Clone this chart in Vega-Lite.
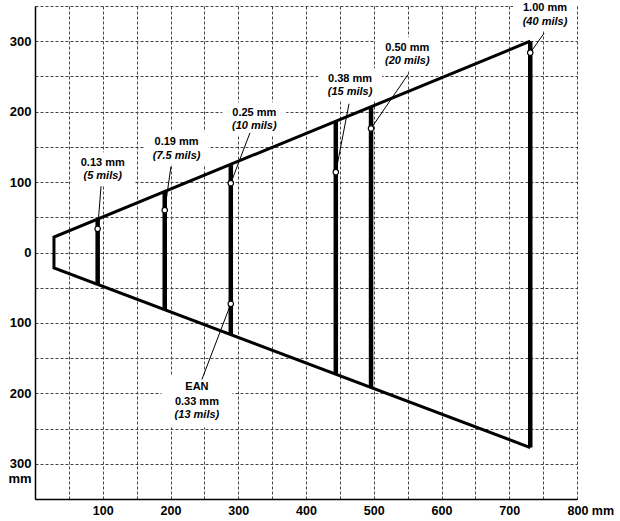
{
  "$schema": "https://vega.github.io/schema/vega-lite/v6.json",
  "width": 542,
  "height": 493,
  "autosize": {"type": "none"},
  "padding": {"left": 35, "top": 6, "right": 43, "bottom": 22},
  "background": "white",
  "config": {"view": {"stroke": null}, "font": "Liberation Sans"},
  "datasets": {
    "envelope": [
      {"x": 731, "y": 300, "o": 1},
      {"x": 28, "y": 22, "o": 2},
      {"x": 28, "y": -22, "o": 3},
      {"x": 731, "y": -277, "o": 4}
    ],
    "bars": [
      {"resolution": "0.13 mm", "x": 92.5, "y": -45.4, "y2": 47.5},
      {"resolution": "0.19 mm", "x": 191.5, "y": -80.5, "y2": 86.5},
      {"resolution": "0.25 mm", "x": 289, "y": -116.7, "y2": 125.2},
      {"resolution": "0.38 mm", "x": 444, "y": -172.9, "y2": 186.5},
      {"resolution": "0.50 mm", "x": 496, "y": -191.8, "y2": 207},
      {"resolution": "1.00 mm", "x": 731, "y": -277, "y2": 300}
    ],
    "markers": [
      {"resolution": "0.13 mm", "x": 92.5, "y": 33.7, "x2": 97.5, "y2": 94.2},
      {"resolution": "0.19 mm", "x": 191.5, "y": 60.1, "x2": 200.7, "y2": 122.2},
      {"resolution": "0.25 mm", "x": 289, "y": 98.4, "x2": 317.3, "y2": 170},
      {"resolution": "0.38 mm", "x": 444, "y": 114.1, "x2": 463.5, "y2": 211.2},
      {"resolution": "0.50 mm", "x": 496, "y": 176.1, "x2": 550.6, "y2": 252.8},
      {"resolution": "1.00 mm", "x": 731, "y": 283.7, "x2": 751.3, "y2": 311.1},
      {"resolution": "0.33 mm", "x": 289, "y": -72.9, "x2": 246.3, "y2": -180.4}
    ],
    "labels": [
      {"mm": "0.13 mm", "mils": "(5 mils)", "tag": "", "x": 100, "y": 127.4},
      {"mm": "0.19 mm", "mils": "(7.5 mils)", "tag": "", "x": 209, "y": 156.7},
      {"mm": "0.25 mm", "mils": "(10 mils)", "tag": "", "x": 323.7, "y": 198.4},
      {"mm": "0.38 mm", "mils": "(15 mils)", "tag": "", "x": 465, "y": 246.7},
      {"mm": "0.50 mm", "mils": "(20 mils)", "tag": "", "x": 549.5, "y": 290.8},
      {"mm": "1.00 mm", "mils": "(40 mils)", "tag": "", "x": 752.8, "y": 346.6},
      {"mm": "0.33 mm", "mils": "(13 mils)", "tag": "EAN", "x": 239, "y": -211.6}
    ]
  },
  "encoding": {
    "x": {
      "field": "x",
      "type": "quantitative",
      "scale": {"domain": [0, 800], "nice": false, "zero": false},
      "axis": {
        "title": null,
        "values": [0, 50, 100, 150, 200, 250, 300, 350, 400, 450, 500, 550, 600, 650, 700, 750, 800],
        "grid": true,
        "gridColor": "#444",
        "gridDash": [3, 2],
        "gridWidth": 1,
        "domainColor": "#000",
        "domainWidth": 1.5,
        "ticks": false,
        "labelExpr": "datum.value == 800 ? '800 mm' : (datum.value % 100 == 0 && datum.value > 0 ? format(datum.value, 'd') : '')",
        "labelFont": "Liberation Sans",
        "labelFontWeight": "bold",
        "labelFontSize": 12.5,
        "labelColor": "#000",
        "labelPadding": 5,
        "labelFlush": false,
        "labelOverlap": false,
        "labelAlign": {"condition": {"test": "datum.value == 800", "value": "left"}, "value": "center"},
        "labelOffset": {"condition": {"test": "datum.value == 800", "value": -10}, "value": 0}
      }
    },
    "y": {
      "field": "y",
      "type": "quantitative",
      "scale": {"domain": [-350, 350], "nice": false, "zero": false},
      "axis": {
        "title": null,
        "values": [-350, -300, -250, -200, -150, -100, -50, 0, 50, 100, 150, 200, 250, 300, 350],
        "grid": true,
        "gridColor": "#444",
        "gridDash": [3, 2],
        "gridWidth": 1,
        "domainColor": "#000",
        "domainWidth": 1.5,
        "ticks": false,
        "labelExpr": "datum.value == -300 ? ['300', 'mm'] : (datum.value % 100 == 0 && abs(datum.value) <= 300 ? format(abs(datum.value), 'd') : '')",
        "labelFont": "Liberation Sans",
        "labelFontWeight": "bold",
        "labelFontSize": 13,
        "labelColor": "#000",
        "labelPadding": 4,
        "labelFlush": false,
        "labelOverlap": false,
        "labelLineHeight": 15
      }
    }
  },
  "layer": [
    {
      "data": {"name": "labels"},
      "transform": [{"filter": "datum.tag == ''"}],
      "mark": {"type": "point", "shape": "M-1,-0.33H1V0.7H-1Z", "size": 4096, "filled": true, "fill": "white", "stroke": null, "opacity": 1}
    },
    {
      "data": {"name": "labels"},
      "transform": [{"filter": "datum.tag != ''"}],
      "mark": {"type": "point", "shape": "M-1,-0.73H1V0.73H-1Z", "size": 5041, "filled": true, "fill": "white", "stroke": null, "opacity": 1}
    },
    {
      "data": {"name": "envelope"},
      "mark": {"type": "line", "color": "#000", "strokeWidth": 3, "strokeJoin": "miter", "strokeCap": "butt"},
      "encoding": {"order": {"field": "o", "type": "quantitative"}}
    },
    {
      "data": {"name": "bars"},
      "mark": {"type": "rule", "color": "#000", "strokeWidth": 4.5, "strokeCap": "butt"},
      "encoding": {"y2": {"field": "y2"}}
    },
    {
      "data": {"name": "markers"},
      "mark": {"type": "rule", "color": "#000", "strokeWidth": 1},
      "encoding": {"x2": {"field": "x2"}, "y2": {"field": "y2"}}
    },
    {
      "data": {"name": "markers"},
      "mark": {"type": "point", "shape": "circle", "size": 30, "filled": true, "fill": "white", "stroke": "#000", "strokeWidth": 1.2, "opacity": 1}
    },
    {
      "data": {"name": "labels"},
      "mark": {"type": "text", "font": "Liberation Sans", "fontWeight": "bold", "fontSize": 11, "color": "#000", "baseline": "middle", "align": "center"},
      "encoding": {"text": {"field": "mm"}}
    },
    {
      "data": {"name": "labels"},
      "mark": {"type": "text", "font": "Liberation Sans", "fontWeight": "bold", "fontStyle": "italic", "fontSize": 11, "color": "#000", "baseline": "middle", "align": "center", "dy": 13.5},
      "encoding": {"text": {"field": "mils"}}
    },
    {
      "data": {"name": "labels"},
      "transform": [{"filter": "datum.tag != ''"}],
      "mark": {"type": "text", "font": "Liberation Sans", "fontWeight": "bold", "fontSize": 11, "color": "#000", "baseline": "middle", "align": "center", "dy": -14.5},
      "encoding": {"text": {"field": "tag"}}
    }
  ]
}
